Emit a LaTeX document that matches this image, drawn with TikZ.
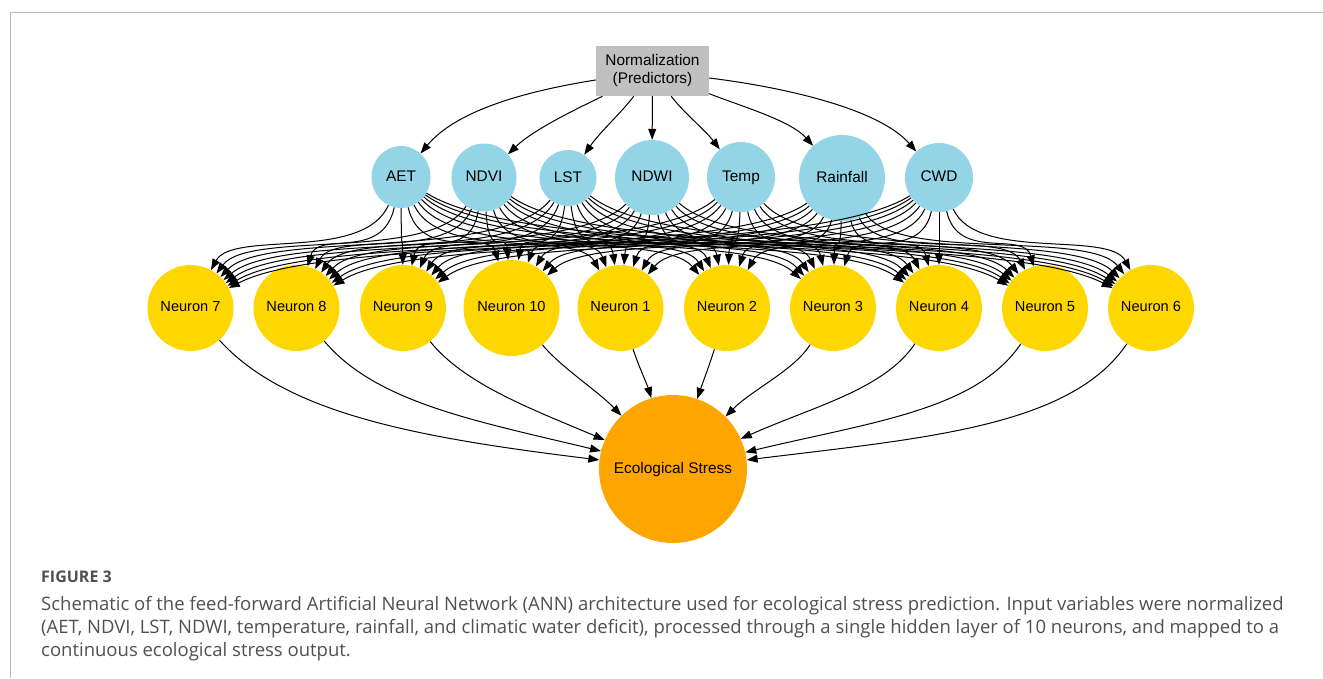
\documentclass[tikz,border=0pt]{standalone}
\usepackage{fontspec}
\setmainfont{Liberation Sans}
\newfontfamily\capfont{Open Sans}
\usetikzlibrary{shapes.geometric,arrows.meta,calc}

\definecolor{inblue}{HTML}{93D5E6}
\definecolor{hidgold}{HTML}{FFD700}
\definecolor{outorange}{HTML}{FFA500}
\definecolor{normgray}{HTML}{C0C0C0}
\definecolor{framegray}{HTML}{BBBBBB}
\definecolor{captext}{HTML}{505050}

\begin{document}
\begin{tikzpicture}[x=1pt,y=1pt,
  inp/.style={ellipse, fill=inblue, inner sep=0pt, text height=11pt, text depth=3pt, font=\fontsize{15.4}{18}\selectfont},
  hid/.style={circle, fill=hidgold, inner sep=0pt, minimum size=86pt, text height=10.5pt, text depth=3pt, font=\fontsize{14.6}{17}\selectfont},
  outn/.style={circle, fill=outorange, inner sep=0pt, minimum size=148pt, text height=11pt, text depth=3pt, font=\fontsize{15.4}{18}\selectfont},
  normbox/.style={rectangle, fill=normgray, minimum width=113pt, minimum height=50pt, align=center, inner sep=0pt, font=\fontsize{15.4}{18}\selectfont},
  edge/.style={draw=black, line width=1pt, -{Triangle[length=11pt,width=8pt]}},
  capline/.style={anchor=base west, inner sep=0pt, text=captext, font=\capfont\fontsize{18.5}{23}\selectfont},
  caphead/.style={anchor=base west, inner sep=0pt, text=captext, font=\capfont\bfseries\fontsize{16}{18}\selectfont},
]
\useasboundingbox (0,0) rectangle (1323,-678);
\draw[framegray, line width=1pt] (10,-678) -- (10,-12) -- (1323,-12);

% nodes
\node[normbox] (norm) at (652.5,-71) {Normalization\\(Predictors)};

\node[inp, minimum width=59pt, minimum height=62pt] (aet) at (401,-177) {AET};
\node[inp, minimum width=65pt, minimum height=68pt] (ndvi) at (484,-177.5) {NDVI};
\node[inp, minimum width=57pt, minimum height=56pt] (lst) at (568,-178) {LST};
\node[inp, minimum width=74pt, minimum height=75pt] (ndwi) at (652,-177.5) {NDWI};
\node[inp, minimum width=68pt, minimum height=70pt] (temp) at (741,-177) {Temp};
\node[inp, minimum width=86pt, minimum height=86pt] (rain) at (842,-178) {Rainfall};
\node[inp, minimum width=68pt, minimum height=69pt] (cwd) at (939,-177.5) {CWD};

\node[hid] (n7) at (190.5,-308) {Neuron 7};
\node[hid] (n8) at (296.5,-308) {Neuron 8};
\node[hid] (n9) at (403,-308) {Neuron 9};
\node[hid, minimum size=96pt] (n10) at (511.5,-308) {Neuron 10};
\node[hid] (n1) at (620.5,-308) {Neuron 1};
\node[hid] (n2) at (727,-308) {Neuron 2};
\node[hid] (n3) at (833,-308) {Neuron 3};
\node[hid] (n4) at (939,-308) {Neuron 4};
\node[hid] (n5) at (1045,-308) {Neuron 5};
\node[hid] (n6) at (1151,-308) {Neuron 6};

\node[outn] (out) at (673,-469) {Ecological Stress};

% normalization -> inputs
\draw[edge] (norm) .. controls (520,-92) and (455,-112) .. (aet);
\draw[edge] (norm) .. controls (585,-105) and (535,-128) .. (ndvi);
\draw[edge] (norm) .. controls (622,-112) and (600,-132) .. (lst);
\draw[edge] (norm) -- (ndwi);
\draw[edge] (norm) .. controls (683,-112) and (705,-130) .. (temp);
\draw[edge] (norm) .. controls (740,-106) and (790,-120) .. (rain);
\draw[edge] (norm) .. controls (790,-88) and (880,-110) .. (cwd);

% inputs -> hidden
\foreach \i/\xi in {aet/401, ndvi/484, lst/568, ndwi/652, temp/741, rain/842, cwd/939}{
  \foreach \n/\xn in {n7/190.5, n8/296.5, n9/403, n10/511.5, n1/620.5, n2/727, n3/833, n4/939, n5/1045, n6/1151}{
    \pgfmathsetmacro\ca{\xi+0.18*(\xn-\xi)}
    \pgfmathsetmacro\cb{\xn-0.2*(\xn-\xi)}
    \draw[edge] (\i) .. controls (\ca,-262) and (\cb,-230) .. (\n);
  }
}

% hidden -> output
\foreach \n/\a/\b/\la/\lb in {n7/-48/173/100/180, n8/-50/166.5/80/130, n9/-51/157/55/80, n10/-50/134/30/35, n1/-73/107/12/12, n2/-107/71/14/14, n3/-122/45/30/38, n4/-124/24/55/80, n5/-124/13.5/80/130, n6/-124/7/100/180}{
  \draw[edge] (\n.\a) .. controls +(\a:\la) and +(\b:\lb) .. (out.\b);
}

% caption
\node[caphead] (fighead) at (41,-582) {FIGURE 3};
\node[capline] (cap1) at (41,-610) {Schematic of the feed-forward Artificial Neural Network (ANN) architecture used for ecological stress prediction. Input variables were normalized};
\node[capline] (cap2) at (41,-633) {(AET, NDVI, LST, NDWI, temperature, rainfall, and climatic water deficit), processed through a single hidden layer of 10 neurons, and mapped to a};
\node[capline] (cap3) at (41,-656) {continuous ecological stress output.};
\end{tikzpicture}
\end{document}
